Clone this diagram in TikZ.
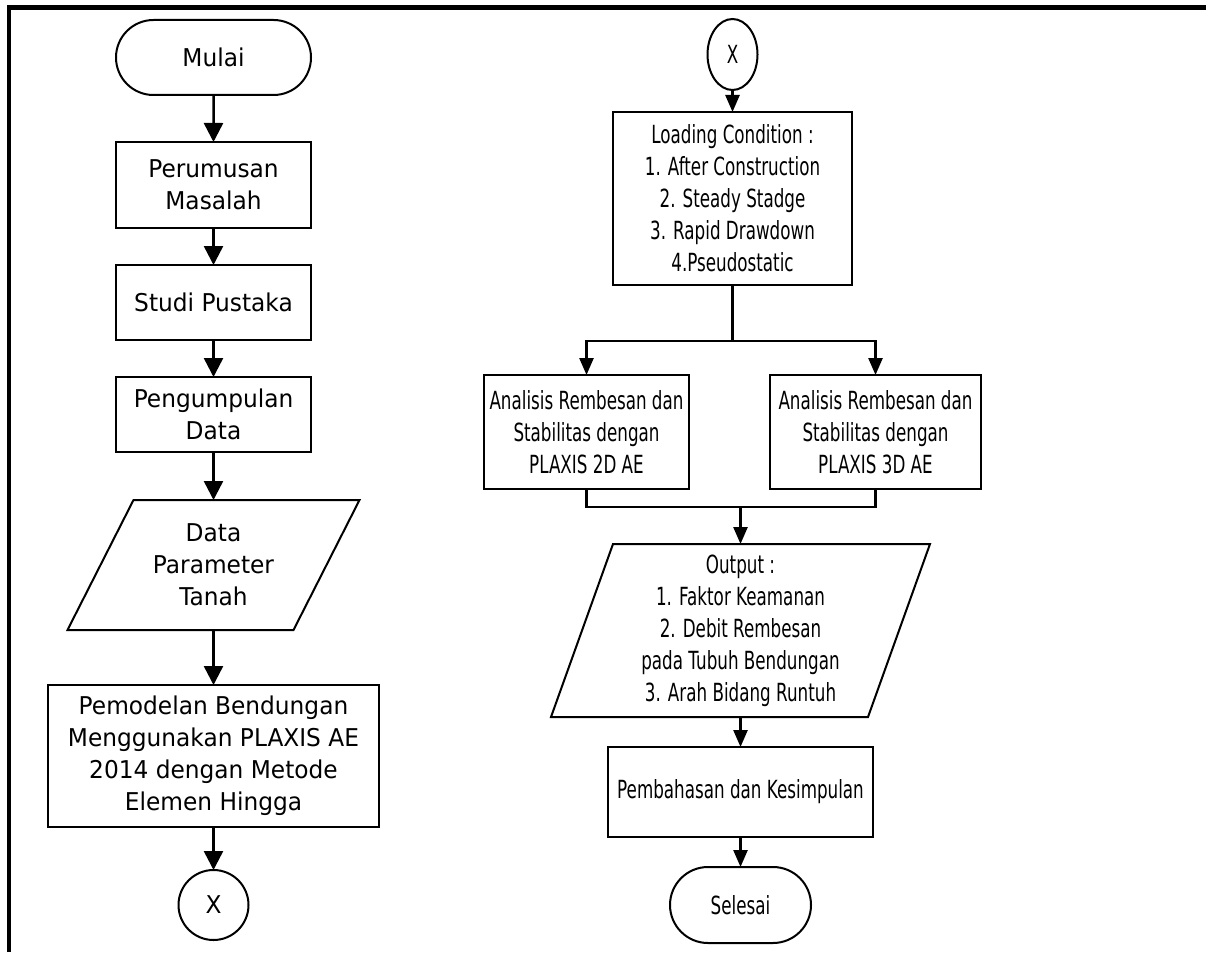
\documentclass[tikz,border=0pt]{standalone}
\usepackage{fontspec}
\setmainfont{DejaVu Sans}
\newfontfamily\lfont[FakeStretch=0.95]{DejaVu Sans}
\newfontfamily\rfont[FakeStretch=0.67]{DejaVu Sans}
\usetikzlibrary{shapes.geometric,shapes.misc,arrows.meta}
\begin{document}
\begin{tikzpicture}[x=1pt,y=-1pt,
  every node/.style={inner sep=0pt, outer sep=0pt, align=center},
  lt/.style={font=\lfont\fontsize{24.5}{32}\selectfont},
  rt/.style={font=\rfont\fontsize{25}{32}\selectfont},
  box/.style={draw, line width=2pt, rectangle},
  term/.style={draw, line width=2pt, rounded rectangle},
  pbox/.style={rectangle},
  pline/.style={line width=2pt, line join=miter},
  conn/.style={draw, line width=2pt, ellipse},
  arrl/.style={line width=2.5pt, -{Triangle[length=19pt,width=19pt]}},
  arrr/.style={line width=2.5pt, -{Triangle[length=17pt,width=14pt]}},
  ln/.style={line width=2.5pt}]
\useasboundingbox (0,0) rectangle (1206,952);
% frame
\draw[line width=4.5pt] (9,952) -- (9,7.5) -- (1206,7.5);
% left column
\node[term,lt,minimum width=195,minimum height=75] (mulai) at (213.5,57.5) {Mulai};
\node[box,lt,minimum width=195,minimum height=86] (perumusan) at (213.5,185) {Perumusan\\Masalah};
\node[box,lt,minimum width=195,minimum height=75] (studi) at (213.5,302.5) {Studi Pustaka};
\node[box,lt,minimum width=195,minimum height=75] (kumpul) at (213.5,414.5) {Pengumpulan\\Data};
\node[pbox,lt,minimum width=292,minimum height=130] (dparam) at (213.5,565) {Data\\Parameter\\Tanah};
\draw[pline] (dparam.south west) -- ([xshift=66pt]dparam.north west) -- (dparam.north east) -- ([xshift=-66pt]dparam.south east) -- cycle;
\node[box,lt,minimum width=331,minimum height=142] (model) at (213.5,756) {Pemodelan Bendungan\\Menggunakan PLAXIS AE\\2014 dengan Metode\\Elemen Hingga};
\node[conn,lt,minimum width=70,minimum height=70] (xl) at (213.5,905) {X};
\draw[arrl] (mulai) -- (perumusan);
\draw[arrl] (perumusan) -- (studi);
\draw[arrl] (studi) -- (kumpul);
\draw[arrl] (kumpul) -- (dparam);
\draw[arrl] (dparam) -- (model);
\draw[arrl] (model) -- (xl);
% right column
\node[conn,rt,minimum width=50,minimum height=71] (xr) at (732.5,54.5) {X};
\node[box,rt,minimum width=239,minimum height=173] (load) at (732.5,198.5) {Loading Condition :\\1. After Construction\\2. Steady Stadge\\3. Rapid Drawdown\\4.Pseudostatic};
\node[box,rt,minimum width=205,minimum height=114] (a2d) at (586.5,432) {Analisis Rembesan dan\\Stabilitas dengan\\PLAXIS 2D AE};
\node[box,rt,minimum width=211,minimum height=114] (a3d) at (875.5,432) {Analisis Rembesan dan\\Stabilitas dengan\\PLAXIS 3D AE};
\node[pbox,rt,minimum width=379,minimum height=173] (out) at (740.5,630.5) {Output :\\1. Faktor Keamanan\\2. Debit Rembesan\\pada Tubuh Bendungan\\3. Arah Bidang Runtuh};
\draw[pline] (out.south west) -- ([xshift=62pt]out.north west) -- (out.north east) -- ([xshift=-62pt]out.south east) -- cycle;
\node[box,rt,minimum width=265,minimum height=90] (bahas) at (740.5,792) {Pembahasan dan Kesimpulan};
\node[term,rt,minimum width=141,minimum height=76] (selesai) at (740.5,905) {Selesai};
\coordinate (j1) at (732.5,341);
\coordinate (j2) at (740.5,507);
\draw[arrr] (xr) -- (load);
\draw[ln] (load.south) -- (j1);
\draw[arrr] (j1) -| (a2d.north);
\draw[arrr] (j1) -| (a3d.north);
\draw[ln] (a2d.south) |- (j2) -| (a3d.south);
\draw[arrr] (j2) -- (out.north);
\draw[arrr] (out.south) -- (bahas.north);
\draw[arrr] (bahas) -- (selesai);
\end{tikzpicture}
\end{document}
